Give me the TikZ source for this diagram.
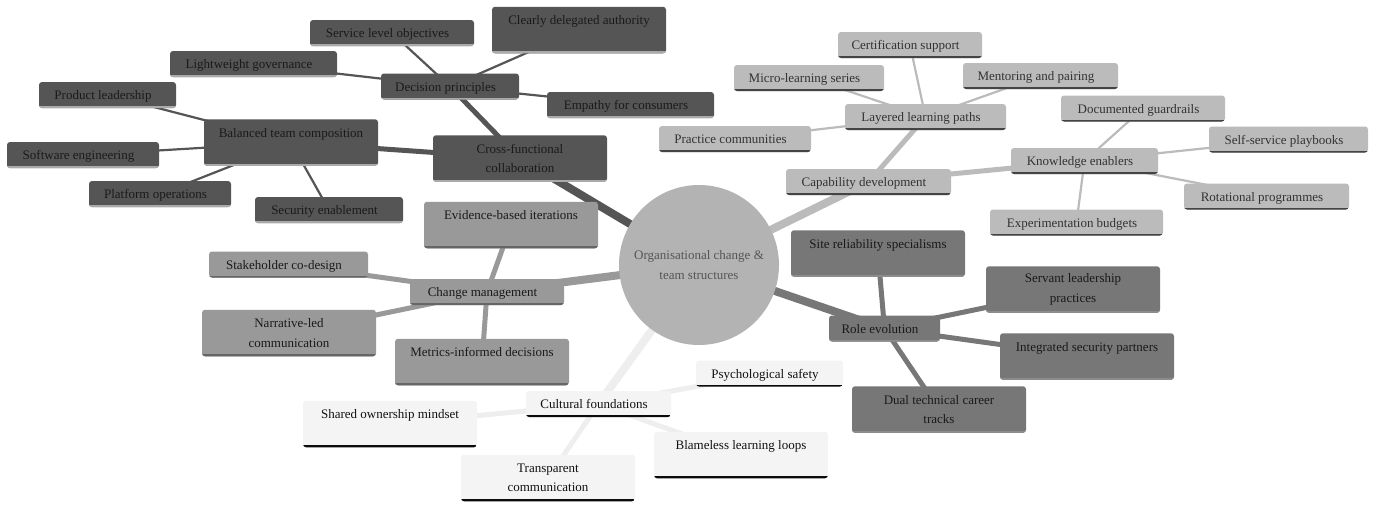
\documentclass[tikz,border=0pt]{standalone}
\usepackage{fontspec}
\setmainfont{Liberation Serif}
\usetikzlibrary{backgrounds}
\definecolor{cA}{HTML}{555555}\definecolor{lA}{HTML}{AAAAAA}\definecolor{tA}{HTML}{1A1A1A}
\definecolor{cB}{HTML}{BBBBBB}\definecolor{lB}{HTML}{444444}\definecolor{tB}{HTML}{333333}
\definecolor{cC}{HTML}{999999}\definecolor{lC}{HTML}{666666}\definecolor{tC}{HTML}{1A1A1A}
\definecolor{cD}{HTML}{777777}\definecolor{lD}{HTML}{8C8C8C}\definecolor{tD}{HTML}{1A1A1A}
\definecolor{cE}{HTML}{F4F4F4}\definecolor{lE}{HTML}{0B0B0B}\definecolor{tE}{HTML}{111111}
\definecolor{eE}{HTML}{EEEEEE}
\definecolor{cR}{HTML}{B3B3B3}\definecolor{tR}{HTML}{555555}
\def\myshift{-9pt}
\tikzset{
  base/.style={rounded corners=3pt, inner sep=0pt,
    font=\fontsize{13}{19.5}\selectfont, minimum height=26pt,
    text height=12pt, text depth=3pt, execute at begin node={\hspace*{\myshift}}},
  secA/.style={base, fill=cA, text=tA, path picture={\draw[lA, line width=4pt] (path picture bounding box.south west) -- (path picture bounding box.south east);}},
  secB/.style={base, fill=cB, text=tB, path picture={\draw[lB, line width=4pt] (path picture bounding box.south west) -- (path picture bounding box.south east);}},
  secC/.style={base, fill=cC, text=tC, path picture={\draw[lC, line width=4pt] (path picture bounding box.south west) -- (path picture bounding box.south east);}},
  secD/.style={base, fill=cD, text=tD, path picture={\draw[lD, line width=4pt] (path picture bounding box.south west) -- (path picture bounding box.south east);}},
  secE/.style={base, fill=cE, text=tE, path picture={\draw[lE, line width=4pt] (path picture bounding box.south west) -- (path picture bounding box.south east);}},
  tall/.style={minimum height=46.5pt, align=center, text height=, text depth=, /utils/exec={\def\myshift{0pt}}},
  rootnode/.style={circle, fill=cR, text=tR, minimum size=160pt, inner sep=0pt, align=center, font=\fontsize{13}{19.5}\selectfont},
  lvlone/.style={line width=8pt},
  lvltwo/.style={line width=5pt},
  lvlthree/.style={line width=2.2pt},
}
\begin{document}
\begin{tikzpicture}[x=1pt,y=-1pt]
\useasboundingbox (0,0) rectangle (1384,512);
% root
\node[rootnode] (root) at (699,265) {Organisational change \&\\team structures};
% section A
\node[secA, tall, minimum width=174pt] (cf) at (520,158.5) {Cross-functional\\collaboration};
\node[secA, minimum width=138pt] (dp) at (450,86.5) {Decision principles};
\node[secA, tall, minimum width=174pt] (btc) at (291,142.5) {Balanced team composition\\\mbox{}};
\node[secA, minimum width=164pt] (slo) at (392,33) {Service level objectives};
\node[secA, tall, minimum width=174pt] (cda) at (579,30) {Clearly delegated authority\\\mbox{}};
\node[secA, minimum width=167pt] (lg) at (253.5,64) {Lightweight governance};
\node[secA, minimum width=167pt] (efc) at (630.5,105) {Empathy for consumers};
\node[secA, minimum width=137pt] (pl) at (107.5,95) {Product leadership};
\node[secA, minimum width=152pt] (se) at (83,155) {Software engineering};
\node[secA, minimum width=142pt] (po) at (160,194) {Platform operations};
\node[secA, minimum width=148pt] (sec) at (329,210) {Security enablement};
% section B
\node[secB, minimum width=165pt] (cd) at (868.5,182) {Capability development};
\node[secB, minimum width=161pt] (llp) at (925.5,117) {Layered learning paths};
\node[secB, minimum width=147pt] (ke) at (1084.5,161) {Knowledge enablers};
\node[secB, minimum width=144pt] (cs) at (910,45) {Certification support};
\node[secB, minimum width=150pt] (mls) at (809,78) {Micro-learning series};
\node[secB, minimum width=155pt] (map) at (1040.5,76) {Mentoring and pairing};
\node[secB, minimum width=152pt] (pc) at (735,139) {Practice communities};
\node[secB, minimum width=164pt] (dg) at (1143,108.5) {Documented guardrails};
\node[secB, minimum width=159pt] (ssp) at (1288.5,139.5) {Self-service playbooks};
\node[secB, minimum width=165pt] (rp) at (1266.5,196.5) {Rotational programmes};
\node[secB, minimum width=173pt] (eb) at (1076.5,222.5) {Experimentation budgets};
% section C
\node[secC, minimum width=154pt] (cm) at (487,292) {Change management};
\node[secC, tall, minimum width=174pt] (ebi) at (511,225) {Evidence-based iterations\\\mbox{}};
\node[secC, minimum width=159pt] (scd) at (288.5,264.5) {Stakeholder co-design};
\node[secC, tall, minimum width=174pt] (nlc) at (289,333) {Narrative-led\\communication};
\node[secC, tall, minimum width=174pt] (mid) at (482,362) {Metrics-informed decisions\\\mbox{}};
% section D
\node[secD, minimum width=111pt] (re) at (884.5,328.5) {Role evolution};
\node[secD, tall, minimum width=174pt] (srs) at (878,253.5) {Site reliability specialisms\\\mbox{}};
\node[secD, tall, minimum width=174pt] (slp) at (1073,289.5) {Servant leadership\\practices};
\node[secD, tall, minimum width=174pt] (isp) at (1087,356.5) {Integrated security partners\\\mbox{}};
\node[secD, tall, minimum width=174pt] (dtc) at (939,409.5) {Dual technical career\\tracks};
% section E
\node[secE, minimum width=145pt] (cfn) at (598.5,404) {Cultural foundations};
\node[secE, minimum width=147pt] (ps) at (769.5,373.5) {Psychological safety};
\node[secE, tall, minimum width=174pt] (som) at (390,424) {Shared ownership mindset\\\mbox{}};
\node[secE, tall, minimum width=174pt] (bll) at (741,455) {Blameless learning loops\\\mbox{}};
\node[secE, tall, minimum width=174pt] (tc) at (548,478) {Transparent\\communication};
% edges
\begin{pgfonlayer}{background}
\draw[cA, lvlone] (root.center) -- (cf.center);
\draw[cA, lvltwo] (cf.center) -- (dp.center);
\draw[cA, lvltwo] (cf.center) -- (btc.center);
\foreach \n in {slo,cda,lg,efc} \draw[cA, lvlthree] (dp.center) -- (\n.center);
\foreach \n in {pl,se,po,sec} \draw[cA, lvlthree] (btc.center) -- (\n.center);
\draw[cB, lvlone] (root.center) -- (cd.center);
\draw[cB, lvltwo] (cd.center) -- (llp.center);
\draw[cB, lvltwo] (cd.center) -- (ke.center);
\foreach \n in {cs,mls,map,pc} \draw[cB, lvlthree] (llp.center) -- (\n.center);
\foreach \n in {dg,ssp,rp,eb} \draw[cB, lvlthree] (ke.center) -- (\n.center);
\draw[cC, lvlone] (root.center) -- (cm.center);
\foreach \n in {ebi,scd,nlc,mid} \draw[cC, lvltwo] (cm.center) -- (\n.center);
\draw[cD, lvlone] (root.center) -- (re.center);
\foreach \n in {srs,slp,isp,dtc} \draw[cD, lvltwo] (re.center) -- (\n.center);
\draw[eE, lvlone] (root.center) -- (cfn.center);
\foreach \n in {ps,som,bll,tc} \draw[eE, lvltwo] (cfn.center) -- (\n.center);
\end{pgfonlayer}
\end{tikzpicture}
\end{document}
